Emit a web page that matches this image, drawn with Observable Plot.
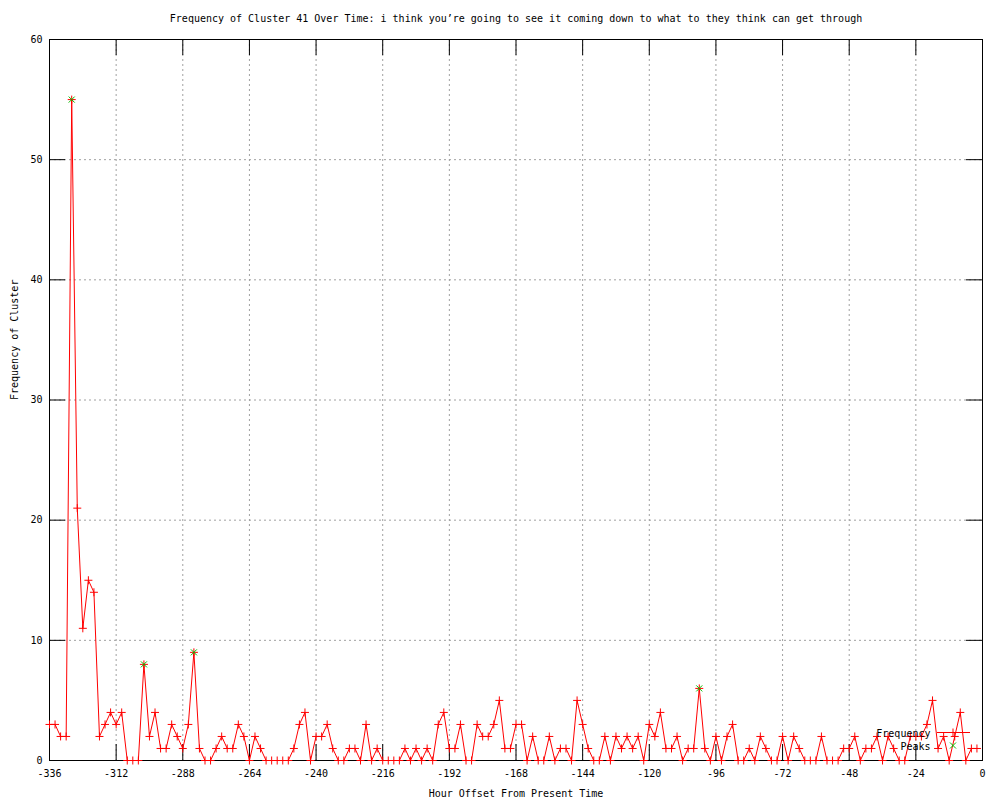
<!DOCTYPE html>
<html>
<head>
<meta charset="utf-8">
<script src="https://cdn.jsdelivr.net/npm/d3@7"></script>
<script src="https://cdn.jsdelivr.net/npm/@observablehq/plot@0.6"></script>
<style>
  html, body { margin: 0; padding: 0; background: white; }
  #chart { width: 1000px; height: 800px; }
</style>
</head>
<body>
<div id="chart"></div>
<script>
const title = "Frequency of Cluster 41 Over Time: i think you’re going to see it coming down to what to they think can get through";
const xLabel = "Hour Offset From Present Time";
const yLabel = "Frequency of Cluster";

// Frequency counts, one per 2-hour step starting at -336
const values = [
  3, 3, 2, 2, 55, 21, 11, 15, 14, 2,
  3, 4, 3, 4, 0, 0, 0, 8, 2, 4,
  1, 1, 3, 2, 1, 3, 9, 1, 0, 0,
  1, 2, 1, 1, 3, 2, 0, 2, 1, 0,
  0, 0, 0, 0, 1, 3, 4, 0, 2, 2,
  3, 1, 0, 0, 1, 1, 0, 3, 0, 1,
  0, 0, 0, 0, 1, 0, 1, 0, 1, 0,
  3, 4, 1, 1, 3, 0, 0, 3, 2, 2,
  3, 5, 1, 1, 3, 3, 0, 2, 0, 0,
  2, 0, 1, 1, 0, 5, 3, 1, 0, 0,
  2, 0, 2, 1, 2, 1, 2, 0, 3, 2,
  4, 1, 1, 2, 0, 1, 1, 6, 1, 0,
  2, 0, 2, 3, 0, 0, 1, 0, 2, 1,
  0, 0, 2, 0, 2, 1, 0, 0, 0, 2,
  0, 0, 0, 1, 1, 2, 0, 1, 1, 2,
  0, 2, 1, 0, 0, 2, 2, 2, 3, 5,
  1, 2, 0, 2, 4, 0, 1, 1
];
const hours = d3.range(-336, 0, 2);

const peakHours = [-328, -302, -284, -102];
const peakValues = [55, 8, 9, 6];

const xTicks = [-336, -312, -288, -264, -240, -216, -192, -168, -144, -120, -96, -72, -48, -24, 0];
const yTicks = [0, 10, 20, 30, 40, 50, 60];

const freq = hours.map((h, i) => ({hour: h, count: values[i]}));
const peaks = peakHours.map((h, i) => ({hour: h, count: peakValues[i]}));

const plusSym = {draw(ctx, size) { const r = Math.sqrt(size / Math.PI); ctx.moveTo(-r, 0); ctx.lineTo(r, 0); ctx.moveTo(0, -r); ctx.lineTo(0, r); }};
const crossSym = {draw(ctx, size) { const r = Math.sqrt(size / Math.PI); ctx.moveTo(-r, -r); ctx.lineTo(r, r); ctx.moveTo(-r, r); ctx.lineTo(r, -r); }};

const W = 1000, H = 800, ML = 49, MR = 18, MT = 39, MB = 40;
const FW = W - ML - MR, FH = H - MT - MB, TL = 16;
const RED = "#ff0000", GREEN = "#00c000", GRID = "#a0a0a0";

function legend(index, scales, values, dims) {
  const g = d3.create("svg:g");
  const x0 = dims.width - dims.marginRight, y0 = dims.height - dims.marginBottom;
  const ly = y0 - 27.5, px = x0 - 29;
  g.append("line").attr("x1", x0 - 45).attr("x2", x0 - 12).attr("y1", ly).attr("y2", ly).attr("stroke", RED);
  g.append("path").attr("d", `M${px-4},${ly}H${px+4}M${px},${ly-4}V${ly+4}`).attr("stroke", RED).attr("fill", "none");
  const gy = y0 - 14.5;
  g.append("path").attr("d", `M${px-3},${gy-3}L${px+3},${gy+3}M${px-3},${gy+3}L${px+3},${gy-3}`).attr("stroke", GREEN).attr("fill", "none");
  return g.node();
}

const chart = Plot.plot({
  width: W, height: H,
  marginLeft: ML, marginRight: MR, marginTop: MT, marginBottom: MB,
  x: {domain: [-336, 0]},
  y: {domain: [0, 60]},
  style: {fontFamily: "'DejaVu Sans Mono', monospace", fontSize: "10px", background: "white", color: "black", overflow: "visible"},
  marks: [
    Plot.gridX(xTicks.slice(1, -1), {stroke: GRID, strokeOpacity: 1, strokeDasharray: "2,3"}),
    Plot.gridY(yTicks.slice(1, -1), {stroke: GRID, strokeOpacity: 1, strokeDasharray: "2,3"}),
    Plot.ruleX(xTicks, {x: d => d, insetTop: FH - TL, stroke: "black"}),
    Plot.ruleX(xTicks, {x: d => d, insetBottom: FH - TL, stroke: "black"}),
    Plot.ruleY(yTicks, {y: d => d, insetRight: FW - TL, stroke: "black"}),
    Plot.ruleY(yTicks, {y: d => d, insetLeft: FW - TL, stroke: "black"}),
    Plot.frame({stroke: "black"}),
    Plot.axisX({ticks: xTicks, tickSize: 0, tickPadding: 9, tickFormat: d => String(d), label: null}),
    Plot.axisY({ticks: yTicks, tickSize: 0, tickPadding: 7, tickFormat: d => String(d), label: null}),
    Plot.line(freq, {x: "hour", y: "count", stroke: RED, strokeWidth: 1}),
    Plot.dot(freq, {x: "hour", y: "count", symbol: plusSym, r: 4, stroke: RED, strokeWidth: 1}),
    Plot.dot(peaks, {x: "hour", y: "count", symbol: crossSym, r: 3, stroke: GREEN, strokeWidth: 1}),
    Plot.text([title], {frameAnchor: "top", dy: -21, lineAnchor: "middle", fill: "black"}),
    Plot.text([xLabel], {frameAnchor: "bottom", dy: 33, lineAnchor: "middle", fill: "black"}),
    Plot.text([yLabel], {frameAnchor: "left", dx: -35, rotate: -90, lineAnchor: "middle", fill: "black"}),
    Plot.text(["Frequency"], {frameAnchor: "bottom-right", dx: -52, dy: -27, textAnchor: "end", lineAnchor: "middle", fill: "black"}),
    Plot.text(["Peaks"], {frameAnchor: "bottom-right", dx: -52, dy: -14, textAnchor: "end", lineAnchor: "middle", fill: "black"}),
    legend
  ]
});
document.getElementById("chart").appendChild(chart);
</script>
</body>
</html>
